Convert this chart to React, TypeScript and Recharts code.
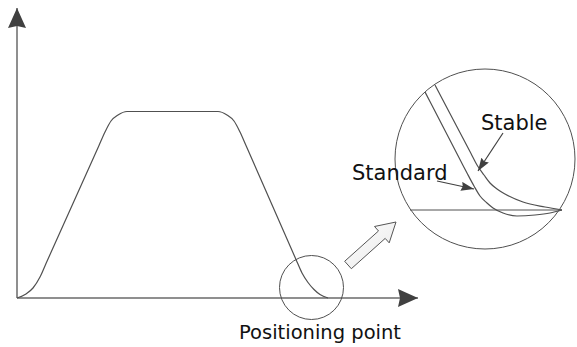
import { ComposedChart, Line, XAxis, YAxis, ReferenceLine, ReferenceDot } from "recharts";

// main move profile (x, height above the x axis)
const profileX = [17, 26, 33, 40, 46, 99, 105, 111, 118, 127, 218, 227, 234, 240, 246, 296, 302, 308, 314, 320, 328];
const profileY = [0, 4, 10, 21, 34.5, 152.5, 166, 177, 183, 186.5, 186.5, 183, 177, 166, 152.5, 38.5, 25, 15.5, 8.5, 3.5, 0];

// zoomed-in ends inside the big circle
const standardX = [425, 431, 461, 467, 474, 480, 487, 493, 503, 517, 535, 550, 562];
const standardY = [206, 194.5, 136.5, 125, 112, 102, 95, 90, 85, 82, 83, 85, 88];
const stableX = [435, 441, 471, 477, 484, 490, 497, 505, 523, 545, 562];
const stableY = [213, 201.5, 144.5, 133, 123, 115, 109, 104, 96, 91, 88];

const labels = ["Stable", "Standard", "Positioning point"];

const toPoints = (xs: number[], ys: number[]) => xs.map((x, i) => ({ x, y: ys[i] }));

const LINE = "#505050";
const AXIS = "#6a6a6a";
const HEAD = "#404040";
const FONT = "'DejaVu Sans', sans-serif";

const arrowLine = (marker: string, color: string, width: number) => (p: any) => (
  <line x1={p.x1} y1={p.y1} x2={p.x2} y2={p.y2} stroke={color} strokeWidth={width} markerEnd={`url(#${marker})`} />
);

const blockArrow = (p: any) => {
  const dx = p.x2 - p.x1;
  const dy = p.y2 - p.y1;
  const len = Math.hypot(dx, dy);
  const ux = dx / len, uy = dy / len;
  const nx = -uy, ny = ux;
  const head = 19, shaft = 5, wing = 11;
  const bx = p.x2 - ux * head, by = p.y2 - uy * head;
  const pts = [
    [p.x1 + nx * shaft, p.y1 + ny * shaft],
    [bx + nx * shaft, by + ny * shaft],
    [bx + nx * wing, by + ny * wing],
    [p.x2, p.y2],
    [bx - nx * wing, by - ny * wing],
    [bx - nx * shaft, by - ny * shaft],
    [p.x1 - nx * shaft, p.y1 - ny * shaft],
  ];
  return (
    <polygon
      points={pts.map((q) => q.join(",")).join(" ")}
      fill="url(#hollowFill)"
      stroke="#555"
      strokeWidth={1}
      strokeLinejoin="miter"
    />
  );
};

const textShape = (text: string, size: number) => (p: any) => (
  <text x={p.cx} y={p.cy} fontFamily={FONT} fontSize={size} fill="#111">
    {text}
  </text>
);

const curveProps = {
  dataKey: "y",
  type: "monotone" as const,
  stroke: LINE,
  strokeWidth: 1.2,
  dot: false,
  activeDot: false,
  isAnimationActive: false,
};

export default function App() {
  return (
    <div style={{ position: "absolute", left: 0, top: 0, background: "#fff" }}>
      <ComposedChart width={577} height={347} margin={{ top: 0, right: 0, bottom: 0, left: 0 }}>
        <defs>
          <marker id="axisHead" viewBox="0 0 20 18" refX="20" refY="9" markerWidth="20" markerHeight="18" markerUnits="userSpaceOnUse" orient="auto">
            <path d="M0,0 L20,9 L0,18 L2,9 Z" fill={HEAD} />
          </marker>
          <marker id="smallHead" viewBox="0 0 13 9" refX="13" refY="4.5" markerWidth="13" markerHeight="9" markerUnits="userSpaceOnUse" orient="auto">
            <path d="M0,0 L13,4.5 L0,9 L1.5,4.5 Z" fill={HEAD} />
          </marker>
          <linearGradient id="hollowFill" x1="0" y1="0" x2="1" y2="1">
            <stop offset="0%" stopColor="#ffffff" />
            <stop offset="100%" stopColor="#e8e8e8" />
          </linearGradient>
        </defs>
        <XAxis type="number" dataKey="x" domain={[0, 577]} allowDataOverflow hide />
        <YAxis type="number" dataKey="y" domain={[-49, 298]} allowDataOverflow hide />

        <ReferenceLine segment={[{ x: 17, y: 0 }, { x: 17, y: 290 }]} shape={arrowLine("axisHead", AXIS, 1.5)} />
        <ReferenceLine segment={[{ x: 17, y: 0 }, { x: 418, y: 0 }]} shape={arrowLine("axisHead", AXIS, 1.5)} />

        <Line data={toPoints(profileX, profileY)} {...curveProps} />

        <ReferenceDot x={311.5} y={10.5} r={32} fill="none" stroke={LINE} strokeWidth={1} />
        <ReferenceDot x={485} y={139} r={90} fill="none" stroke={LINE} strokeWidth={1} />

        <ReferenceLine segment={[{ x: 348, y: 33 }, { x: 396, y: 76 }]} shape={blockArrow} />

        <ReferenceLine segment={[{ x: 410, y: 88 }, { x: 562, y: 88 }]} stroke={LINE} strokeWidth={1} />
        <Line data={toPoints(standardX, standardY)} {...curveProps} />
        <Line data={toPoints(stableX, stableY)} {...curveProps} />

        <ReferenceLine segment={[{ x: 503, y: 165 }, { x: 478, y: 127 }]} shape={arrowLine("smallHead", HEAD, 1.2)} />
        <ReferenceLine segment={[{ x: 437, y: 117 }, { x: 474, y: 109 }]} shape={arrowLine("smallHead", HEAD, 1.2)} />

        <ReferenceDot x={481} y={168} r={0} shape={textShape(labels[0], 21)} />
        <ReferenceDot x={352} y={118} r={0} shape={textShape(labels[1], 21)} />
        <ReferenceDot x={239} y={-41} r={0} shape={textShape(labels[2], 19.5)} />
      </ComposedChart>
    </div>
  );
}
